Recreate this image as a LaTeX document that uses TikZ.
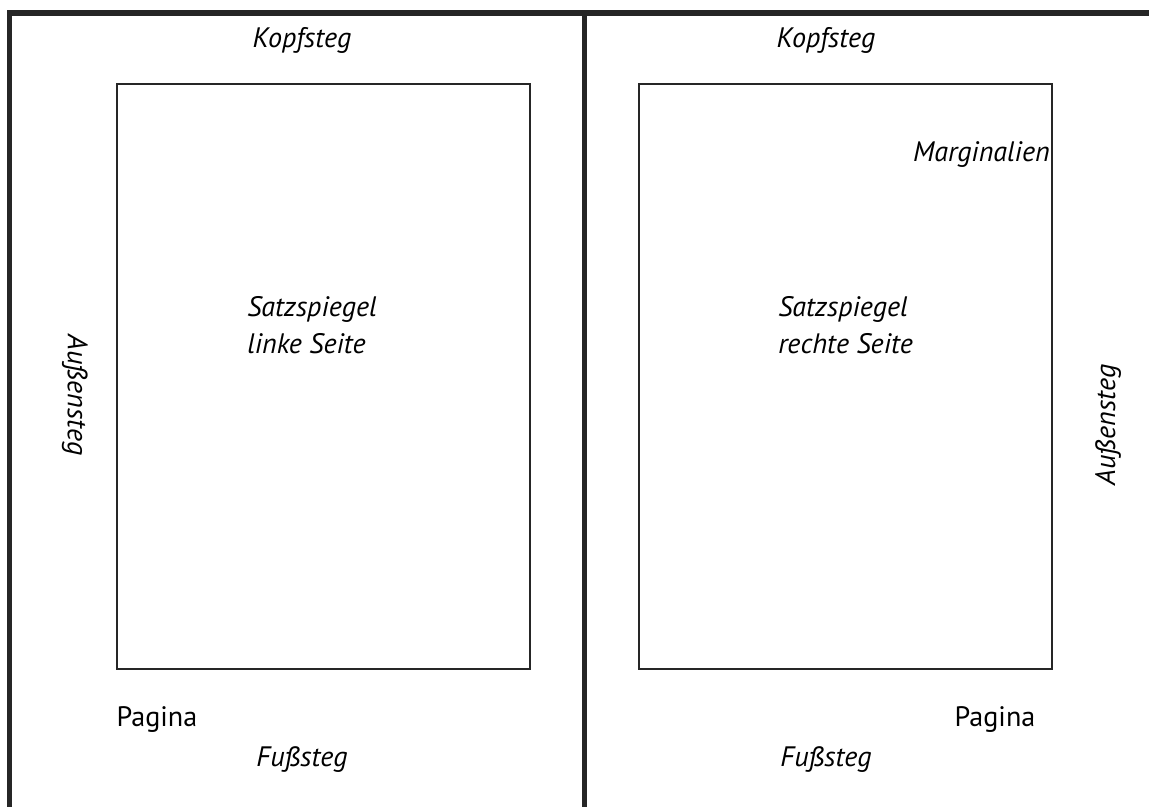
\documentclass[tikz,border=0pt]{standalone}
\usepackage{fontspec}
\setmainfont{PT Sans}
\usepackage{tikz}

\tikzset{
	lab/.style={inner sep=0pt,font=\fontsize{20}{26}\selectfont\itshape},
	pag/.style={inner sep=0pt,font=\fontsize{20}{26}\selectfont},
	page/.style={line width=3.6pt,color=black!85},
	spiegel/.style={line width=1.5pt,color=black!85}
}

\begin{document}
\begin{tikzpicture}[x=0.025cm,y=-0.025cm]
	\useasboundingbox (0,0) rectangle (1149,807);

	% Seitenkanten
	\coordinate (tl) at (9.5, 13);
	\coordinate (tr) at (1149, 13);
	\coordinate (bl) at (9.5, 807);
	\coordinate (mt) at (584.5, 13);
	\coordinate (mb) at (584.5, 807);
	\draw[page] (bl) -- (tl) -- (tr);
	\draw[page] (mt) -- (mb);

	% Satzspiegel
	\coordinate (l1) at (117, 84);
	\coordinate (l2) at (530, 669);
	\coordinate (r1) at (639, 84);
	\coordinate (r2) at (1052, 669);
	\draw[spiegel] (l1) rectangle (l2);
	\draw[spiegel] (r1) rectangle (r2);

	\node[lab] (kl) at (302, 40)     {Kopfsteg};
	\node[lab] (kr) at (826, 40)     {Kopfsteg};
	\node[lab,anchor=east] (mar) at (1050, 155)     {Marginalien};
	\node[lab,anchor=west,align=left] (sl) at (247, 325)     {Satzspiegel\\linke Seite};
	\node[lab,anchor=west,align=left] (sr) at (778, 325)     {Satzspiegel\\rechte Seite};
	\node[lab,rotate=-90] (al) at (75, 395)     {Außensteg};
	\node[lab,rotate=90] (ar) at (1108, 425)     {Außensteg};
	\node[pag] (pl) at (157, 720)     {Pagina};
	\node[pag] (pr) at (995, 720)     {Pagina};
	\node[lab] (fl) at (302, 760)     {Fußsteg};
	\node[lab] (fr) at (826, 760)     {Fußsteg};

\end{tikzpicture}
\end{document}
